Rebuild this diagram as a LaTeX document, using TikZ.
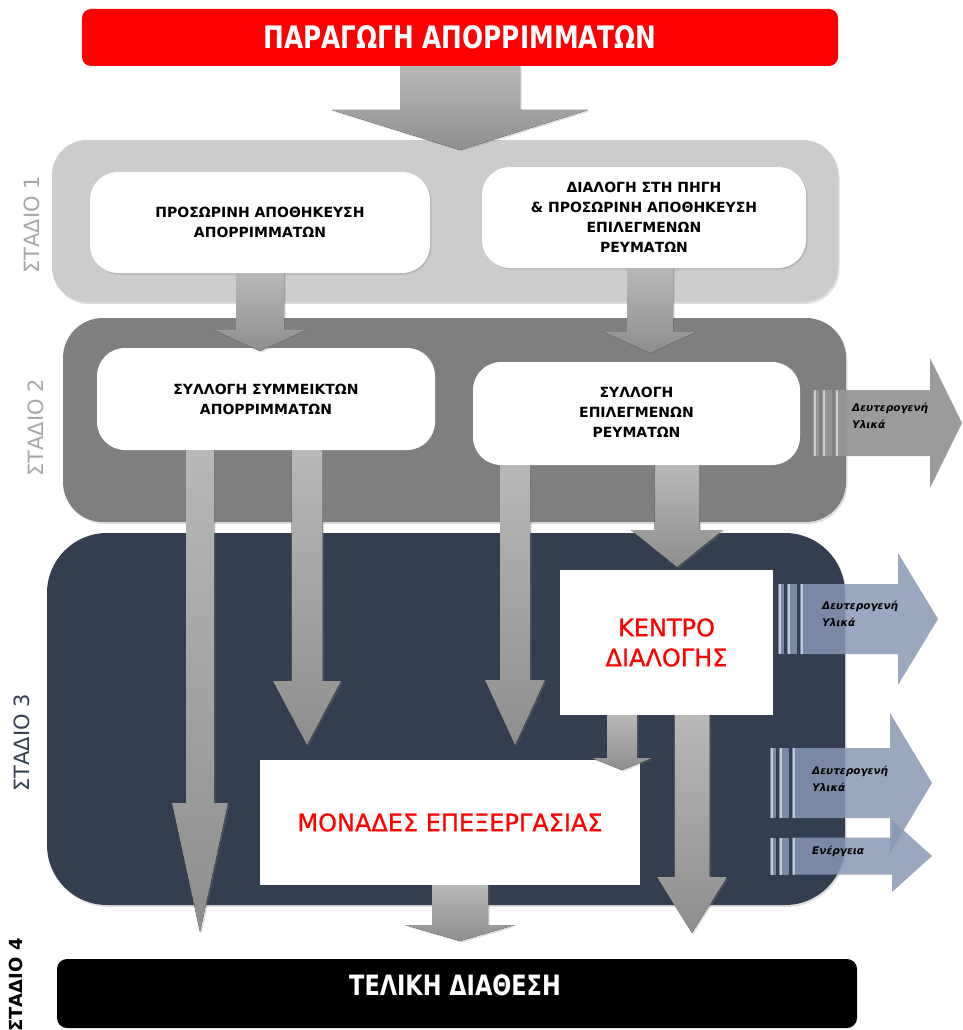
\documentclass[tikz,border=0pt]{standalone}
\usepackage{fontspec}
\setmainfont{DejaVu Sans}
\newfontfamily\condfont[FakeStretch=0.8]{DejaVu Sans}
\newfontfamily\redfont[FakeBold=0.8]{DejaVu Sans}
\usetikzlibrary{calc,shadows}
\definecolor{bannerred}{HTML}{FF0000}
\definecolor{panelA}{HTML}{CCCCCC}
\definecolor{panelB}{HTML}{7F7F7F}
\definecolor{panelC}{HTML}{333F50}
\definecolor{arrowtop}{HTML}{B8B8B8}
\definecolor{arrowbot}{HTML}{8E8E8E}
\definecolor{bluearrow}{HTML}{8798B4}
\definecolor{grayside}{HTML}{969696}
\definecolor{stagegray}{HTML}{A6A6A6}
\newcommand{\blockdown}[5]{%
  \fill[grayarrow] let \p1=#1, \p2=#2 in
    ({\x1-#3pt},\y1) -- ({\x1+#3pt},\y1) -- ({\x1+#3pt},{\y2+#5pt}) --
    ({\x1+#4pt},{\y2+#5pt}) -- (\x1,\y2) -- ({\x1-#4pt},{\y2+#5pt}) --
    ({\x1-#3pt},{\y2+#5pt}) -- cycle;}
\newcommand{\stripearrow}[7]{%
  \fill[#7] (#1,{#2-#3}) rectangle ({#1+6},{#2+#3});
  \fill[#7] ({#1+9},{#2-#3}) rectangle ({#1+19},{#2+#3});
  \fill[#7] ({#1+22},{#2-#3}) -- (#4,{#2-#3}) -- (#4,{#2-#5}) -- (#6,#2) --
    (#4,{#2+#5}) -- (#4,{#2+#3}) -- ({#1+22},{#2+#3}) -- cycle;
  \foreach \dx in {1.5,10.5,23.5}
    \draw[white, opacity=0.55, line width=2pt] ({#1+\dx},{#2-#3}) -- ({#1+\dx},{#2+#3});}
\begin{document}
\begin{tikzpicture}[x=1pt,y=-1pt,
  panel/.style={inner sep=0pt, rounded corners=#1,
    drop shadow={shadow xshift=1.5pt, shadow yshift=-2pt, opacity=0.25}},
  wbox/.style={fill=white, rounded corners=28pt, inner sep=0pt, align=center,
    font=\fontsize{14}{20}\selectfont\bfseries,
    drop shadow={shadow xshift=1.5pt, shadow yshift=-1.5pt, opacity=0.3}},
  sqbox/.style={fill=white, inner sep=0pt, align=center, text=red,
    font=\redfont\fontsize{24}{30}\selectfont},
  grayarrow/.style={top color=arrowtop, bottom color=arrowbot,
    drop shadow={shadow xshift=1.5pt, shadow yshift=-1.5pt, opacity=0.25}},
  bluefill/.style={fill=bluearrow, opacity=0.85},
  grayfill/.style={fill=grayside, opacity=0.95},
  stagelabel/.style={rotate=90, inner sep=0pt, font=\fontsize{21}{21}\selectfont},
  sidetext/.style={inner sep=0pt, anchor=west, align=left,
    font=\fontsize{10.5}{17}\selectfont\bfseries\itshape}
]
\useasboundingbox (0,0) rectangle (962,1030);

% banner
\node[fill=bannerred, rounded corners=9pt, minimum width=756pt, minimum height=57pt,
  inner sep=0pt, text=white, font=\condfont\bfseries\fontsize{31}{31}\selectfont]
  (banner) at (460,37.5) {ΠΑΡΑΓΩΓΗ ΑΠΟΡΡΙΜΜΑΤΩΝ};

% panels
\node[panel=35pt, fill=panelA, minimum width=786pt, minimum height=162pt] (p1) at (445,221) {};
\node[panel=40pt, fill=panelB, minimum width=783pt, minimum height=204pt] (p2) at (454.5,420) {};
\node[panel=60pt, fill=panelC, minimum width=798pt, minimum height=372pt] (p3) at (446,719) {};

% stage labels
\node[stagelabel, text=stagegray] (lab1) at (32,225) {ΣΤΑΔΙΟ 1};
\node[stagelabel, text=stagegray] (lab2) at (36,428) {ΣΤΑΔΙΟ 2};
\node[stagelabel, text=panelC] (lab3) at (22,743) {ΣΤΑΔΙΟ 3};
\node[stagelabel, text=black, font=\fontsize{18}{18}\selectfont\bfseries] (lab4) at (16,985) {ΣΤΑΔΙΟ 4};

% side arrows
\stripearrow{813}{423}{33}{930}{65}{962}{grayfill}
\node[sidetext] (side1) at (852,416) {Δευτερογενή\\Υλικά};
\stripearrow{778}{619}{35}{898}{66}{938}{bluefill}
\node[sidetext] (side2) at (822,614) {Δευτερογενή\\Υλικά};
\stripearrow{770}{783}{35}{890}{70}{932}{bluefill}
\node[sidetext] (side3) at (812,779) {Δευτερογενή\\Υλικά};
\stripearrow{770}{856}{18.5}{892}{36}{932}{bluefill}
\node[sidetext] (side4) at (812,851) {Ενέργεια};

% boxes
\node[wbox, minimum width=340pt, minimum height=101pt] (s1l) at (260,222.5)
  {ΠΡΟΣΩΡΙΝΗ ΑΠΟΘΗΚΕΥΣΗ\\ΑΠΟΡΡΙΜΜΑΤΩΝ};
\node[wbox, minimum width=324pt, minimum height=101pt] (s1r) at (644,217.5)
  {ΔΙΑΛΟΓΗ ΣΤΗ ΠΗΓΗ\\\& ΠΡΟΣΩΡΙΝΗ ΑΠΟΘΗΚΕΥΣΗ\\ΕΠΙΛΕΓΜΕΝΩΝ\\ΡΕΥΜΑΤΩΝ};
\node[wbox, minimum width=338pt, minimum height=102pt] (s2l) at (266,399)
  {ΣΥΛΛΟΓΗ ΣΥΜΜΕΙΚΤΩΝ\\ΑΠΟΡΡΙΜΜΑΤΩΝ};
\node[wbox, minimum width=327pt, minimum height=103pt] (s2r) at (636.5,413.5)
  {\raisebox{11pt}{\begin{tabular}{@{}c@{}}ΣΥΛΛΟΓΗ\\ΕΠΙΛΕΓΜΕΝΩΝ\\ΡΕΥΜΑΤΩΝ\end{tabular}}};
\node[sqbox, minimum width=213pt, minimum height=145pt] (kd) at (666.5,642.5)
  {ΚΕΝΤΡΟ\\ΔΙΑΛΟΓΗΣ};
\node[sqbox, minimum width=380pt, minimum height=125pt, font=\redfont\fontsize{24}{28}\selectfont]
  (mon) at (450,822.5) {ΜΟΝΑΔΕΣ ΕΠΕΞΕΡΓΑΣΙΑΣ};
\node[fill=black, rounded corners=10pt, minimum width=800pt, minimum height=69pt,
  inner sep=0pt] (tel) at (457,993.5) {};
\node[text=white, inner sep=0pt, font=\condfont\bfseries\fontsize{28}{28}\selectfont]
  (teltxt) at (455,985) {ΤΕΛΙΚΗ ΔΙΑΘΕΣΗ};

% block arrows
\coordinate (t1) at (460,150);
\blockdown{(banner.south)}{(t1)}{60}{128}{40}
\coordinate (t2) at (260,351);
\blockdown{(s1l.south -| t2)}{(t2)}{24}{46}{21}
\coordinate (t3) at (650,353);
\blockdown{(s1r.south -| t3)}{(t3)}{23}{46}{21}
\coordinate (tA) at (200,932);
\blockdown{(s2l.south -| tA)}{(tA)}{14}{28}{129}
\coordinate (tB) at (307,745);
\blockdown{(s2l.south -| tB)}{(tB)}{15.5}{34}{64}
\coordinate (tC) at (515,745);
\blockdown{(s2r.south -| tC)}{(tC)}{15}{30}{65}
\coordinate (tD) at (677,567);
\blockdown{(s2r.south -| tD)}{(tD)}{22.5}{46}{37}
\coordinate (tK) at (622,770);
\blockdown{(kd.south -| tK)}{(tK)}{15}{30}{12}
\coordinate (tE) at (692,933);
\blockdown{(kd.south -| tE)}{(tE)}{17.5}{35}{56}
\coordinate (tM) at (460,941);
\blockdown{(mon.south -| tM)}{(tM)}{28}{55}{16}
\end{tikzpicture}
\end{document}
